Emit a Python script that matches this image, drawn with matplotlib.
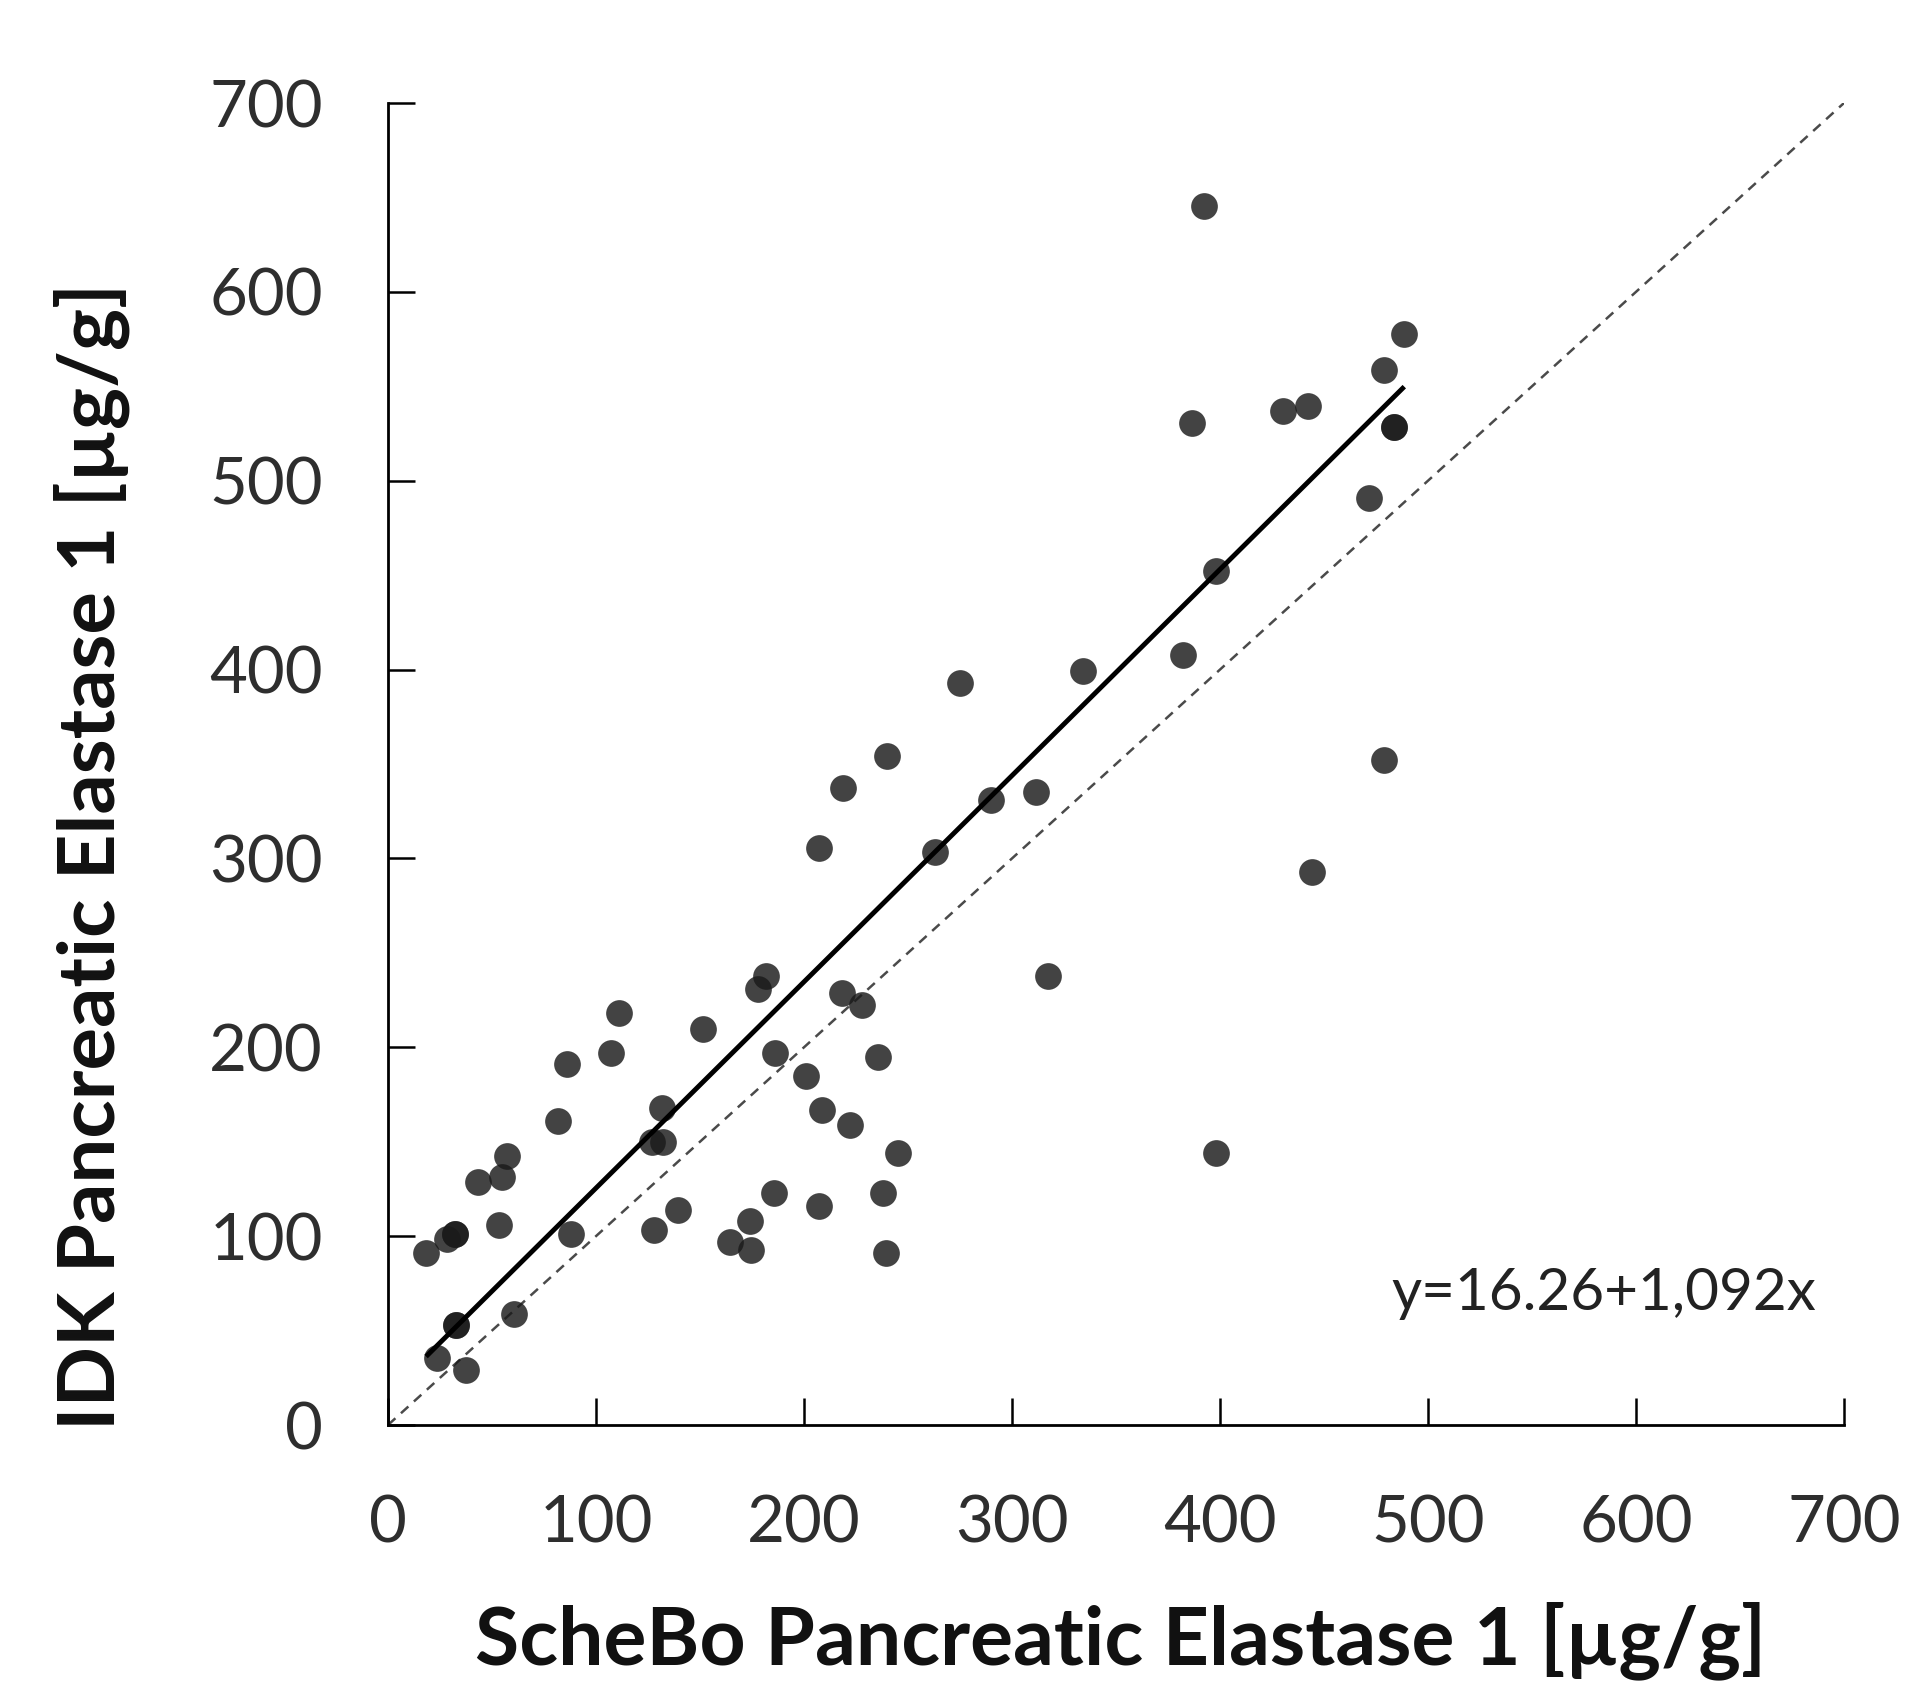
import matplotlib
matplotlib.use("Agg")
import matplotlib.pyplot as plt
import matplotlib.font_manager as fm
import numpy as np

# ---- data ----
schebo = [392.5, 488.6, 478.8, 386.6, 430.4, 442.2, 483.5, 483.5, 471.4, 398.1,
          382.4, 334.2, 275.0, 478.7, 240.0, 218.8, 311.4, 290.1, 207.4, 263.2,
          444.2, 181.8, 177.8, 317.3, 218.2, 228.0, 111.0, 151.3, 107.0, 85.9,
          186.0, 235.8, 200.8, 131.7, 208.6, 222.2, 81.7, 127.0, 132.0, 57.0,
          245.3, 398.1, 43.3, 55.0, 185.4, 237.8, 139.6, 207.0, 53.2, 174.0,
          128.0, 87.9, 164.6, 174.3, 239.6, 18.3, 28.5, 32.0, 32.0, 60.7,
          32.9, 32.9, 23.6, 37.4]
idk = [645.7, 577.8, 558.4, 530.7, 536.8, 539.3, 528.7, 528.7, 490.7, 452.3,
       407.8, 399.2, 392.8, 352.2, 354.2, 337.2, 335.2, 331.0, 305.6, 303.2,
       292.7, 238.0, 231.0, 237.5, 228.8, 222.6, 218.2, 209.8, 196.9, 190.9,
       196.9, 195.1, 184.8, 167.9, 167.0, 159.0, 161.0, 149.8, 149.6, 142.5,
       143.8, 144.2, 128.7, 131.2, 122.7, 122.7, 114.0, 116.2, 105.7, 107.8,
       103.3, 101.0, 97.0, 92.5, 91.0, 91.0, 98.5, 101.0, 101.0, 59.0,
       53.0, 53.0, 35.5, 29.1]
intercept = 16.26
slope = 1.092
ticks = [0, 100, 200, 300, 400, 500, 600, 700]
xlabel = "ScheBo Pancreatic Elastase 1 [µg/g]"
ylabel = "IDK Pancreatic Elastase 1 [µg/g]"
eq_label = "y=16.26+1,092x"

W, H = 1915, 1682
DPI = 100


def available(name):
    try:
        fm.findfont(fm.FontProperties(family=name), fallback_to_default=False)
        return True
    except Exception:
        return False


main_font = "Lato" if available("Lato") else "DejaVu Sans"
narrow_font = "Liberation Sans Narrow" if available("Liberation Sans Narrow") else main_font

fig = plt.figure(figsize=(W / DPI, H / DPI), dpi=DPI)
fig.patch.set_facecolor("white")
ax = fig.add_axes([388 / W, 1 - 1425 / H, (1844 - 388) / W, (1425 - 103) / H])

# identity line
ax.plot([0, 700], [0, 700], linestyle=(0, (4.0, 3.0)), color="#4a4a4a", lw=1.8, zorder=2)
# points
ax.scatter(schebo, idk, s=370, color="#1a1a1a", alpha=0.82, linewidths=0, zorder=3)
# regression line
xr = np.array([min(schebo), max(schebo)])
ax.plot(xr, intercept + slope * xr, color="black", lw=3.5, zorder=4, solid_capstyle="butt")

ax.set_xlim(0, 700)
ax.set_ylim(0, 700)
ax.set_xticks(ticks)
ax.set_yticks(ticks)
ax.set_xticklabels([str(t) for t in ticks])
ax.set_yticklabels([str(t) for t in ticks])
for s in ["top", "right"]:
    ax.spines[s].set_visible(False)
for s in ["left", "bottom"]:
    ax.spines[s].set_linewidth(2.0)
    ax.spines[s].set_color("black")
ax.tick_params(axis="both", direction="in", length=19.5, width=1.8, color="black",
               labelsize=47, labelcolor="#2e2e2e")
ax.tick_params(axis="y", pad=47)
ax.tick_params(axis="x", pad=50)
for lab in ax.get_xticklabels() + ax.get_yticklabels():
    lab.set_fontfamily(main_font)
    lab.set_fontweight("normal")

ax.text(1816 / W, 1 - 1310 / H, eq_label, transform=fig.transFigure, ha="right",
        va="baseline", fontsize=42, fontfamily=main_font, fontweight="normal", color="#222222")

yl = fig.text(92 / W, 1 - 856 / H, ylabel, rotation=90, ha="center", va="center",
              fontsize=56, fontweight="bold", fontfamily=narrow_font, color="#111111")
xl = fig.text(1121 / W, 1 - 1664 / H, xlabel, ha="center", va="baseline",
              fontsize=50, fontweight="bold", fontfamily=main_font, color="#111111")

# fit label lengths to the reference
fig.canvas.draw()
r = fig.canvas.get_renderer()
bb = yl.get_window_extent(r)
yl.set_fontsize(56 * 1146 / bb.height)
bb = xl.get_window_extent(r)
xl.set_fontsize(50 * 1294 / bb.width)

fig.savefig("out.png", dpi=DPI, facecolor="white")
